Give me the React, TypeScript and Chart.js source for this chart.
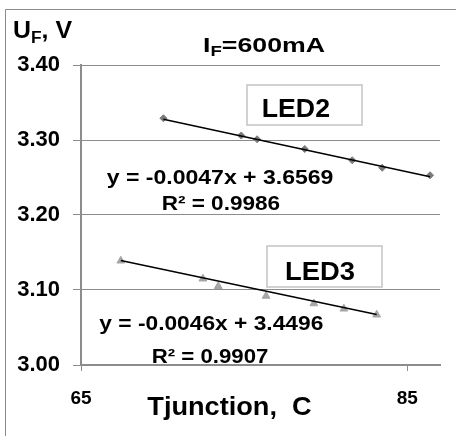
import React, { useEffect, useRef } from "react";
import { Chart, registerables } from "chart.js";

Chart.register(...registerables);

// ---- data ----
const led2Temp = [70.05, 74.82, 75.79, 78.71, 81.62, 83.46, 86.39];
const led2Volt = [3.329, 3.306, 3.301, 3.288, 3.273, 3.263, 3.253];
const led3Temp = [67.44, 72.47, 73.41, 76.34, 79.27, 81.11, 83.12];
const led3Volt = [3.139, 3.115, 3.105, 3.092, 3.082, 3.075, 3.067];

// Excel trendline coefficients shown on the chart
const led2Fit = { slope: -0.0047, intercept: 3.6569, r2: "0.9986" };
const led3Fit = { slope: -0.0046, intercept: 3.4496, r2: "0.9907" };

const xTicks = [65, 85];
const yTicks = [3.0, 3.1, 3.2, 3.3, 3.4];
const xMin = 65;
const xMax = 87;
const yMin = 3.0;
const yMax = 3.4;

const FONT = "'Liberation Sans', Arial, Helvetica, sans-serif";
const GRID = "#8c8c8c";

type Part = { t: string; sub?: boolean };

function drawRich(
  ctx: CanvasRenderingContext2D,
  parts: Part[],
  x: number,
  y: number,
  size: number,
  width: number
) {
  const mainFont = `bold ${size}px ${FONT}`;
  const subFont = `bold ${Math.round(size * 0.7)}px ${FONT}`;
  let natural = 0;
  const widths: number[] = [];
  for (const p of parts) {
    ctx.font = p.sub ? subFont : mainFont;
    const w = ctx.measureText(p.t).width;
    widths.push(w);
    natural += w;
  }
  const sx = width / natural;
  ctx.save();
  ctx.translate(x, y);
  ctx.scale(sx, 1);
  ctx.fillStyle = "#000";
  ctx.textAlign = "left";
  ctx.textBaseline = "alphabetic";
  let cx = 0;
  parts.forEach((p, i) => {
    ctx.font = p.sub ? subFont : mainFont;
    ctx.fillText(p.t, cx, p.sub ? size * 0.2 : 0);
    cx += widths[i];
  });
  ctx.restore();
}

function fmtEq(fit: { slope: number; intercept: number }) {
  return `y = ${fit.slope.toFixed(4)}x + ${fit.intercept.toFixed(4)}`;
}

const annotationPlugin = {
  id: "annotations",
  beforeDraw(chart: any) {
    const ctx: CanvasRenderingContext2D = chart.ctx;
    ctx.save();
    ctx.fillStyle = "#fff";
    ctx.fillRect(0, 0, chart.width, chart.height);
    ctx.strokeStyle = GRID;
    ctx.lineWidth = 1;
    ctx.beginPath();
    ctx.moveTo(5.5, chart.height);
    ctx.lineTo(5.5, 9.5);
    ctx.lineTo(chart.width, 9.5);
    ctx.stroke();
    ctx.restore();
  },
  afterDatasetsDraw(chart: any) {
    const ctx: CanvasRenderingContext2D = chart.ctx;
    // label boxes
    ctx.save();
    ctx.strokeStyle = "#c4c4c4";
    ctx.lineWidth = 1.5;
    ctx.fillStyle = "#fff";
    ctx.fillRect(247, 85, 115, 40);
    ctx.strokeRect(247, 85, 115, 40);
    ctx.fillRect(267, 246, 115, 41);
    ctx.strokeRect(267, 246, 115, 41);
    ctx.restore();

    drawRich(ctx, [{ t: "I" }, { t: "F", sub: true }, { t: "=600mA" }], 203, 51.7, 20, 122);
    drawRich(ctx, [{ t: "U" }, { t: "F", sub: true }, { t: ", V" }], 13, 38.3, 23, 59);
    drawRich(ctx, [{ t: "LED2" }], 261.7, 117.3, 26, 68.3);
    drawRich(ctx, [{ t: "LED3" }], 285, 280, 26, 70);
    drawRich(ctx, [{ t: fmtEq(led2Fit) }], 106.7, 184, 19.5, 226.7);
    drawRich(ctx, [{ t: `R² = ${led2Fit.r2}` }], 161.7, 210, 19.5, 118.3);
    drawRich(ctx, [{ t: fmtEq(led3Fit) }], 99.3, 330, 19.5, 224);
    drawRich(ctx, [{ t: `R² = ${led3Fit.r2}` }], 151.7, 363.3, 19.5, 116.7);
    drawRich(ctx, [{ t: "Tjunction,  C" }], 147.3, 415, 25, 164.4);
  },
};

function trend(temps: number[], fit: { slope: number; intercept: number }) {
  const a = Math.min(...temps);
  const b = Math.max(...temps);
  return [
    { x: a, y: fit.slope * a + fit.intercept },
    { x: b, y: fit.slope * b + fit.intercept },
  ];
}

export default function App() {
  const ref = useRef<HTMLCanvasElement | null>(null);

  useEffect(() => {
    if (!ref.current) return;
    const chart = new Chart(ref.current, {
      type: "scatter",
      data: {
        datasets: [
          {
            label: "LED2 trend",
            data: trend(led2Temp, led2Fit),
            showLine: true,
            borderColor: "#000",
            borderWidth: 1.5,
            pointRadius: 0,
            order: 0,
          },
          {
            label: "LED3 trend",
            data: trend(led3Temp, led3Fit),
            showLine: true,
            borderColor: "#000",
            borderWidth: 1.5,
            pointRadius: 0,
            order: 0,
          },
          {
            label: "LED2",
            data: led2Temp.map((x, i) => ({ x, y: led2Volt[i] })),
            pointStyle: "rectRot",
            pointRadius: 3.5,
            backgroundColor: "#7a7a7a",
            borderColor: "#7a7a7a",
            borderWidth: 1,
            showLine: false,
            order: 1,
          },
          {
            label: "LED3",
            data: led3Temp.map((x, i) => ({ x, y: led3Volt[i] })),
            pointStyle: "triangle",
            pointRadius: 4.5,
            backgroundColor: "#a6a6a6",
            borderColor: "#a6a6a6",
            borderWidth: 1,
            showLine: false,
            order: 1,
          },
        ],
      },
      options: {
        responsive: false,
        animation: false,
        devicePixelRatio: 1,
        layout: { padding: { left: 0, top: 65, right: 16, bottom: 0 } },
        plugins: {
          legend: { display: false },
          tooltip: { enabled: false },
          title: { display: false },
        },
        scales: {
          x: {
            type: "linear",
            min: xMin,
            max: xMax,
            afterBuildTicks: (s: any) => {
              s.ticks = xTicks.map((v) => ({ value: v }));
            },
            afterFit: (s: any) => {
              s.height = 71;
            },
            grid: {
              display: true,
              drawOnChartArea: false,
              drawTicks: true,
              tickLength: 6,
              color: GRID,
              lineWidth: 1,
            },
            border: { display: true, color: GRID, width: 2 },
            ticks: {
              color: "#000",
              font: { family: FONT, size: 19, weight: "bold" },
              padding: 16,
              maxRotation: 0,
              autoSkip: false,
            },
          },
          y: {
            type: "linear",
            min: yMin,
            max: yMax,
            afterBuildTicks: (s: any) => {
              s.ticks = yTicks.map((v) => ({ value: v }));
            },
            afterFit: (s: any) => {
              s.width = 81;
            },
            grid: {
              color: GRID,
              lineWidth: 1,
              drawTicks: true,
              tickLength: 8,
            },
            border: { display: true, color: GRID, width: 2 },
            ticks: {
              color: "#000",
              font: { family: FONT, size: 22, weight: "bold" },
              padding: 13,
              callback: (v: any) => Number(v).toFixed(2),
            },
          },
        },
      },
      plugins: [annotationPlugin],
    });
    return () => chart.destroy();
  }, []);

  return (
    <div style={{ position: "absolute", left: 0, top: 0, width: 456, height: 436, overflow: "hidden" }}>
      <canvas ref={ref} width={456} height={436} style={{ display: "block" }} />
    </div>
  );
}
